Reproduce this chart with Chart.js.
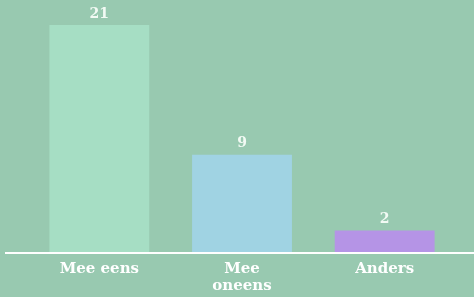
<!DOCTYPE html>
<html>
<head>
<meta charset="utf-8">
<script src="https://cdn.jsdelivr.net/npm/chart.js@4/dist/chart.umd.min.js"></script>
<style>
  html, body { margin: 0; padding: 0; background: #98c9b0; }
  #wrap { width: 474px; height: 297px; }
</style>
</head>
<body>
<div id="wrap"><canvas id="chartCanvas"></canvas></div>
<script>
const categories = [["Mee eens"], ["Mee", "oneens"], ["Anders"]];
const counts = [21, 9, 2];
const barColors = ["#a6dec4", "#a0d3e3", "#b594e6"];

const textFont = "'DejaVu Serif', 'Liberation Serif', serif";

// value labels above bars + long white baseline
const barLabels = {
    id: "barLabels",
    afterDatasetsDraw(chart) {
        const ctx = chart.ctx;
        const meta = chart.getDatasetMeta(0);
        ctx.save();
        ctx.fillStyle = "#f2faf4";
        ctx.font = "bold 14px " + textFont;
        ctx.textAlign = "center";
        ctx.textBaseline = "bottom";
        meta.data.forEach((bar, i) => {
            ctx.fillText(String(counts[i]), bar.x, bar.y - 4);
        });
        const yb = chart.chartArea.bottom + 1;
        ctx.strokeStyle = "#ffffff";
        ctx.lineWidth = 2;
        ctx.beginPath();
        ctx.moveTo(5, yb);
        ctx.lineTo(chart.width, yb);
        ctx.stroke();
        ctx.restore();
    }
};

const ctx = document.getElementById("chartCanvas").getContext("2d");
new Chart(ctx, {
    type: "bar",
    data: {
        labels: categories,
        datasets: [{
            data: counts,
            backgroundColor: barColors,
            borderWidth: 0,
            barPercentage: 0.7,
            categoryPercentage: 1
        }]
    },
    options: {
        responsive: true,
        maintainAspectRatio: false,
        animation: false,
        layout: { padding: { top: 25, left: 28, right: 18, bottom: 0 } },
        plugins: {
            legend: { display: false },
            tooltip: { enabled: false }
        },
        scales: {
            x: {
                grid: { display: false },
                border: { display: false },
                ticks: {
                    color: "#ffffff",
                    font: { family: textFont, size: 15, weight: "bold", lineHeight: 1.15 },
                    padding: 0,
                    maxRotation: 0,
                    autoSkip: false
                },
                afterFit(scale) { scale.height = 45; }
            },
            y: {
                display: false,
                min: 0,
                max: 21
            }
        }
    },
    plugins: [barLabels]
});
</script>
</body>
</html>
